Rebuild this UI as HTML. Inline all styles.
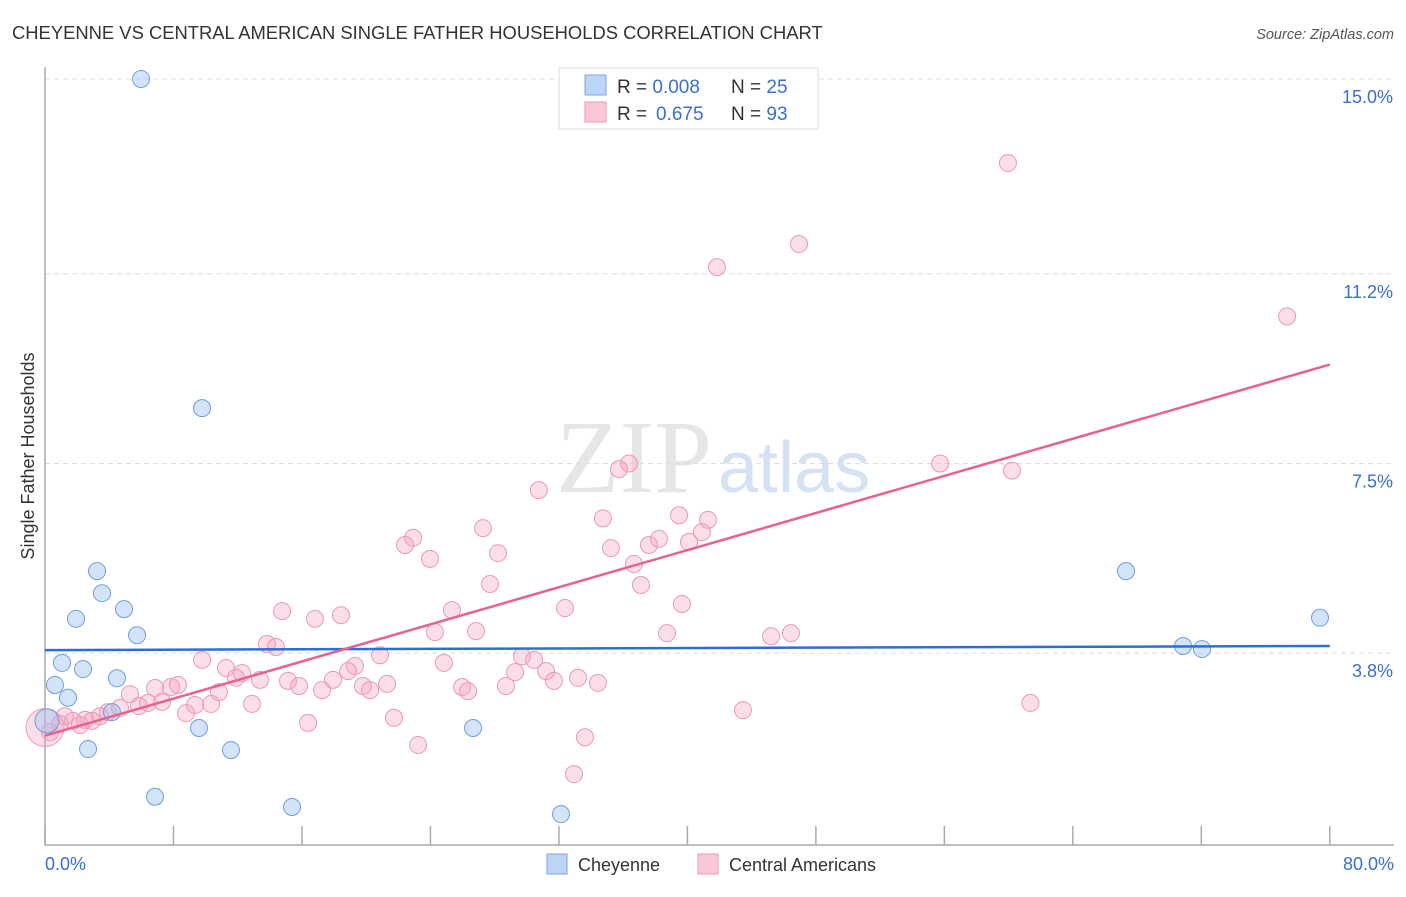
<!DOCTYPE html>
<html><head><meta charset="utf-8"><style>
body{margin:0;background:#fff;font-family:"Liberation Sans",sans-serif}
</style></head><body>
<svg width="1406" height="892" xmlns="http://www.w3.org/2000/svg" style="font-family:'Liberation Sans',sans-serif">
<text x="12" y="39" font-size="18.4" fill="#333">CHEYENNE VS CENTRAL AMERICAN SINGLE FATHER HOUSEHOLDS CORRELATION CHART</text>
<text x="1394" y="39" font-size="14.5" fill="#555" text-anchor="end" font-style="italic">Source: ZipAtlas.com</text>
<text x="556" y="492" font-size="104" fill="#e6e6e6" font-family="Liberation Serif,serif">ZIP</text>
<text x="718" y="492" font-size="72" fill="#d4e2f4">atlas</text>
<g id="grid"></g>
<g id="axes"></g>
<g id="pts"></g>
<g id="lines"></g>
<text transform="translate(34,456) rotate(-90)" font-size="18" fill="#333" text-anchor="middle">Single Father Households</text>
<text x="45" y="870" font-size="18" fill="#3a6fd0">0.0%</text>
<text x="1394" y="870" font-size="18" fill="#3a6fd0" text-anchor="end">80.0%</text>
<g>
<rect x="547" y="854" width="20" height="20" fill="#bcd4f5" stroke="#7ea6e0"/>
<text x="578" y="871" font-size="18" fill="#333">Cheyenne</text>
<rect x="698" y="854" width="20" height="20" fill="#f9c8d6" stroke="#eb9ab2"/>
<text x="729" y="871" font-size="18" fill="#333">Central Americans</text>
</g>
<g>
<rect x="559" y="68" width="259" height="61" fill="#fff" stroke="#ddd"/>
<rect x="585" y="75" width="21" height="20" fill="#bcd4f5" stroke="#7ea6e0"/>
<rect x="585" y="102" width="21" height="20" fill="#f9c8d6" stroke="#eb9ab2"/>
<text x="617" y="93" font-size="19" fill="#333">R = <tspan fill="#3a6fd0">0.008</tspan><tspan x="731">N = </tspan><tspan fill="#3a6fd0">25</tspan></text>
<text x="617" y="120" font-size="19" fill="#333">R = <tspan x="656" fill="#3a6fd0">0.675</tspan><tspan x="731">N = </tspan><tspan fill="#3a6fd0">93</tspan></text>
</g>
</svg>
<script>
const yTicks=[3.8,7.5,11.2,15.0];
const yTickLabels=["3.8%","7.5%","11.2%","15.0%"];
const xTicks=[0,8,16,24,32,40,48,56,64,72,80];
const cheyX=[5.98,9.78,3.24,3.55,4.92,1.93,5.73,1.06,2.37,0.62,1.43,4.48,4.17,0.12,2.68,9.59,11.58,6.85,15.38,26.65,32.13,67.31,70.86,72.04,79.39];
const cheyY=[15.0,8.58,5.40,4.97,4.66,4.47,4.15,3.61,3.49,3.18,2.93,3.31,2.65,2.48,1.93,2.34,1.91,1.00,0.80,2.34,0.66,5.40,3.94,3.88,4.49];
const camX=[59.96,46.95,41.84,77.34,55.73,60.21,36.36,35.74,30.75,27.27,34.74,22.92,22.42,23.97,28.21,35.24,37.61,38.23,39.48,41.28,40.90,40.10,36.67,37.11,27.71,32.38,25.34,39.66,14.76,18.43,16.81,24.28,26.84,38.73,45.21,46.45,13.82,14.38,20.86,24.84,29.70,30.45,31.20,19.30,18.87,9.78,11.27,12.27,11.89,13.39,15.13,15.82,17.25,17.93,19.80,20.24,21.30,25.97,26.34,28.70,29.27,31.69,33.19,34.43,7.85,8.28,6.85,5.29,10.83,6.41,7.29,5.85,9.34,10.34,12.89,8.78,16.38,21.73,23.23,33.62,43.46,61.36,32.94,3.92,4.67,3.43,2.49,1.74,0.93,0.31,1.24,2.18,2.93];
const camY=[13.36,11.78,11.33,10.37,7.50,7.36,7.50,7.39,6.98,6.24,6.43,6.05,5.91,5.64,5.75,5.85,5.91,6.03,6.49,6.40,6.16,5.97,5.54,5.13,5.15,4.68,4.64,4.76,4.62,4.54,4.47,4.21,4.23,4.19,4.13,4.19,3.98,3.92,3.76,3.61,3.74,3.67,3.45,3.55,3.45,3.67,3.51,3.41,3.32,3.28,3.26,3.16,3.08,3.28,3.16,3.08,3.20,3.14,3.06,3.16,3.43,3.26,3.32,3.22,3.14,3.18,3.12,3.00,3.04,2.83,2.85,2.77,2.79,2.81,2.81,2.63,2.44,2.54,2.01,2.16,2.69,2.83,1.44,2.65,2.73,2.57,2.50,2.48,2.42,2.26,2.57,2.40,2.48];
const cheyFit=[3.86,3.94];
const camFit=[2.19,9.43];
const NS="http://www.w3.org/2000/svg";
const X=v=>45+v*16.06, Y=v=>848-v*51.27;
function mk(parent,tag,attrs){const e=document.createElementNS(NS,tag);for(const k in attrs)e.setAttribute(k,attrs[k]);document.getElementById(parent).appendChild(e);return e;}
yTicks.forEach((t,i)=>{
  const l=mk('grid','line',{x1:45,x2:1394,y1:Y(t),y2:Y(t),stroke:'#ddd','stroke-dasharray':'5,4'});
  
  
  const tx=mk('grid','text',{x:1393,y:Y(t)+24,'font-size':18,fill:'#3a6fd0','text-anchor':'end'});
  tx.textContent=yTickLabels[i];
  
  
});
const ax=mk('axes','path',{d:'M45,67V845H1394',fill:'none',stroke:'#aaa','stroke-width':1.5});


xTicks.forEach(t=>{
  const l=mk('axes','line',{x1:X(t),x2:X(t),y1:826,y2:845,stroke:'#aaa','stroke-width':1.5});
  
  
});
camX.forEach((v,i)=>{
  const c=mk('pts','circle',{cx:X(v),cy:Y(camY[i]),r:8.5,fill:'rgba(245,160,188,0.35)',stroke:'#eb9ab2','stroke-width':1});
  
  
});
const big=mk('pts','circle',{cx:X(0),cy:Y(2.35),r:19,fill:'rgba(245,160,188,0.35)',stroke:'#eb9ab2'});


cheyX.forEach((v,i)=>{
  const c=mk('pts','circle',{cx:X(v),cy:Y(cheyY[i]),r:i==13?12:8.5,fill:'rgba(160,195,240,0.45)',stroke:'#6f9fe0','stroke-width':1});
  
  
});
const bl=mk('lines','line',{x1:X(0),x2:X(80),y1:Y(cheyFit[0]),y2:Y(cheyFit[1]),stroke:'#2a6fd6','stroke-width':2.5});


const pl=mk('lines','line',{x1:X(0),x2:X(80),y1:Y(camFit[0]),y2:Y(camFit[1]),stroke:'#e8628e','stroke-width':2.5});


</script>
</body></html>
